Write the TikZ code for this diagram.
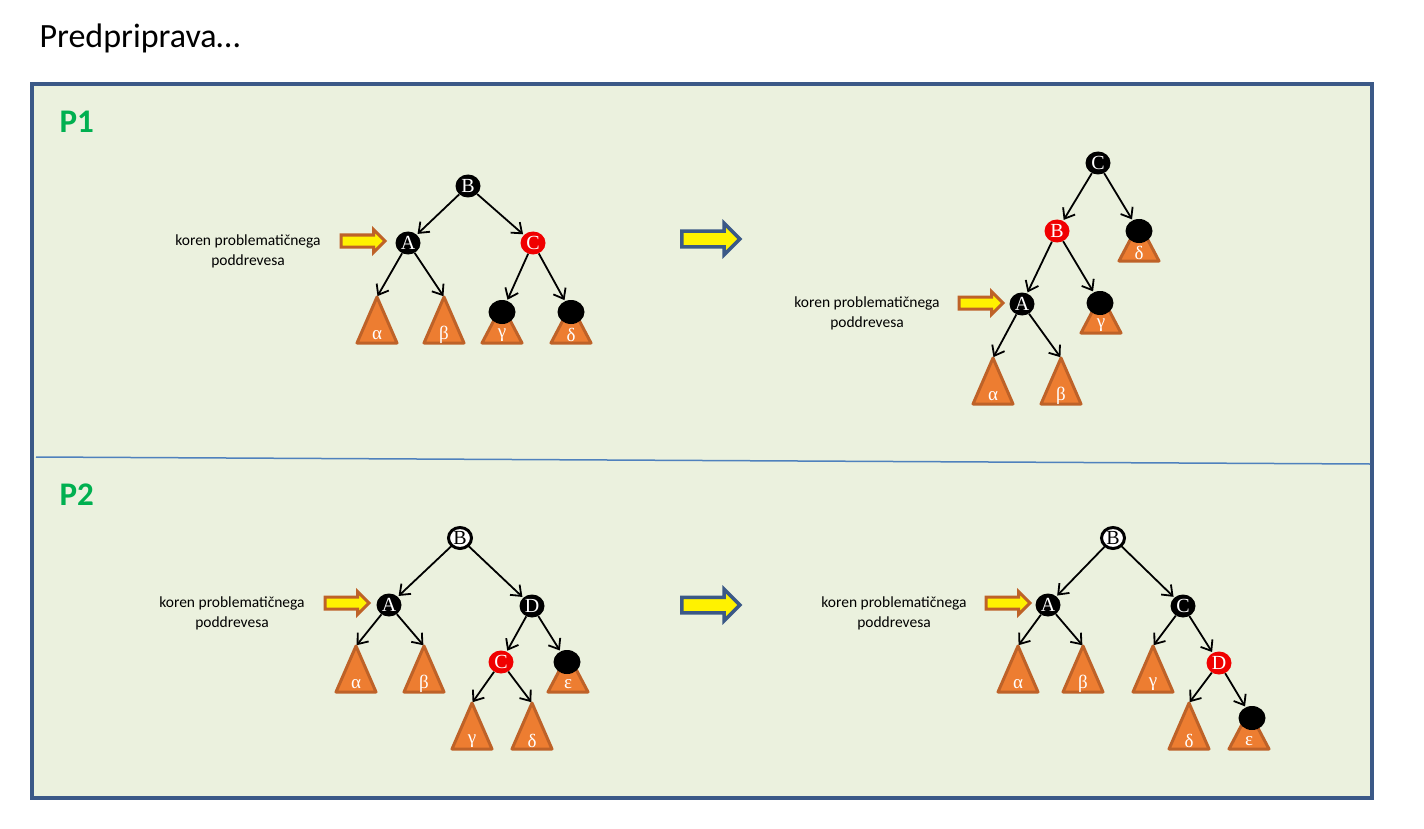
\documentclass[tikz,border=0pt]{standalone}
\usepackage{fontspec}
\setmainfont{Carlito}
\newfontfamily\treefont{Liberation Serif}
\usepackage{tikz}
\usetikzlibrary{arrows.meta}
\usetikzlibrary{shapes.geometric,shapes.arrows}

\definecolor{panelbg}{RGB}{235,241,222}
\definecolor{framecol}{RGB}{59,89,135}
\definecolor{splitcol}{RGB}{79,129,189}
\definecolor{pgreen}{RGB}{0,176,80}
\definecolor{rbred}{RGB}{240,0,0}
\definecolor{treefill}{RGB}{237,125,49}
\definecolor{treeedge}{RGB}{190,98,40}

% subtree triangle: [height], name, x, base y, letter
\newcommand{\subtri}[5][46]{%
	\draw[tri] (#3,#4) -- ++(-20,0) -- ++(20,-#1) -- ++(20,#1) -- cycle;
	\coordinate (#2) at (#3,#4-#1);
	\node[greek] at (#3,#4-8) {#5};
}

\begin{document}
\begin{tikzpicture}[x=1pt,y=-1pt,
		rb/.style={ellipse,inner sep=0pt,minimum width=25pt,minimum height=23pt,font=\treefont\fontsize{20}{20}\selectfont},
		blk/.style={rb,fill=black,text=white},
		rd/.style={rb,fill=rbred,text=white},
		wht/.style={rb,draw=black,line width=3pt,fill=white,text=black,minimum width=23pt,minimum height=21pt},
		leaf/.style={ellipse,fill=black,minimum width=27pt,minimum height=24pt,inner sep=0pt},
		tri/.style={fill=treefill,draw=treeedge,line width=3pt,line join=round},
		greek/.style={text=white,font=\treefont\fontsize{19}{19}\selectfont,inner sep=0pt},
		link/.style={-{Straight Barb[length=9pt,width=14pt]},line width=1.8pt,shorten >=1pt},
		note/.style={align=center,font=\fontsize{15.5}{20}\selectfont},
		ptr/.style={single arrow,draw=treeedge,fill=yellow,line width=3pt,minimum height=44pt,inner xsep=0pt,inner ysep=4.5pt,single arrow head extend=5.5pt},
		bigptr/.style={single arrow,draw=framecol,fill=yellow,line width=3.5pt,minimum height=58pt,inner xsep=0pt,inner ysep=6pt,single arrow head extend=8pt}]
	\useasboundingbox (0,0) rectangle (1424,829);
	
	\node[anchor=base west,font=\fontsize{34}{34}\selectfont] (title) at (36,48) {Predpriprava…};
	\draw[draw=framecol,line width=3.5pt,fill=panelbg] (32,84) rectangle (1372,798);
	\draw[splitcol,line width=1.5pt] (36,457) -- (1370,464);
	\node[anchor=base west,font=\bfseries\fontsize{33}{33}\selectfont,text=pgreen] (p1) at (56,133) {P1};
	\node[anchor=base west,font=\bfseries\fontsize{33}{33}\selectfont,text=pgreen] (p2) at (56,505) {P2};
	
	% P1, before
	\node[note] (n1) at (248,251) {koren problematičnega\\poddrevesa};
	\node[ptr] (r1) at (360,241) {};
	\node[blk] (b1) at (468,186) {B};
	\node[blk] (a1) at (408,243) {A};
	\node[rd] (c1) at (533,243) {C};
	\subtri{al1}{377}{343}{α}
	\subtri{be1}{444}{343}{β}
	\subtri[38]{ga1}{502}{343}{γ}
	\node[leaf] (lg1) at (502,312) {};
	\subtri[38]{de1}{571}{343}{δ}
	\node[leaf] (ld1) at (571,312) {};
	\draw[link] (b1) -- (a1);
	\draw[link] (b1) -- (c1);
	\draw[link] (a1) -- (al1);
	\draw[link] (a1) -- (be1);
	\draw[link] (c1) -- (lg1);
	\draw[link] (c1) -- (ld1);
	
	\node[bigptr] (m1) at (707,239) {};
	
	% P1, after
	\node[note] (n2) at (867,313) {koren problematičnega\\poddrevesa};
	\node[ptr] (r2) at (978,303) {};
	\node[blk] (c2) at (1098,163) {C};
	\node[rd] (b2) at (1057,231) {B};
	\subtri[38]{de2}{1139}{261}{δ}
	\node[leaf] (ld2) at (1139,231) {};
	\node[blk] (a2) at (1022,304) {A};
	\subtri[38]{ga2}{1101}{333}{γ}
	\node[leaf] (lg2) at (1100,303) {};
	\subtri{al2}{993}{404}{α}
	\subtri{be2}{1061}{404}{β}
	\draw[link] (c2) -- (b2);
	\draw[link] (c2) -- (ld2);
	\draw[link] (b2) -- (a2);
	\draw[link] (b2) -- (lg2);
	\draw[link] (a2) -- (al2);
	\draw[link] (a2) -- (be2);
	
	% P2, before
	\node[note] (n3) at (232,613) {koren problematičnega\\poddrevesa};
	\node[ptr] (r3) at (344,603) {};
	\node[wht] (b3) at (460,538) {B};
	\node[blk] (a3) at (389,605) {A};
	\node[blk] (d3) at (532,606) {D};
	\subtri{al3}{356}{692}{α}
	\subtri{be3}{424}{692}{β}
	\node[rd] (c3) at (501,662) {C};
	\subtri[38]{ep3}{568}{692}{ε}
	\node[leaf] (le3) at (567,662) {};
	\subtri{ga3}{472}{749}{γ}
	\subtri{de3}{532}{749}{δ}
	\draw[link] (b3) -- (a3);
	\draw[link] (b3) -- (d3);
	\draw[link] (a3) -- (al3);
	\draw[link] (a3) -- (be3);
	\draw[link] (d3) -- (c3);
	\draw[link] (d3) -- (le3);
	\draw[link] (c3) -- (ga3);
	\draw[link] (c3) -- (de3);
	
	\node[bigptr] (m2) at (707,605) {};
	
	% P2, after
	\node[note] (n4) at (894,613) {koren problematičnega\\poddrevesa};
	\node[ptr] (r4) at (1005,603) {};
	\node[wht] (b4) at (1113,538) {B};
	\node[blk] (a4) at (1048,605) {A};
	\node[blk] (c4) at (1183,606) {C};
	\subtri{al4}{1018}{692}{α}
	\subtri{be4}{1083}{692}{β}
	\subtri{ga4}{1153}{692}{γ}
	\node[rd] (d4) at (1219,663) {D};
	\subtri{de4}{1189}{749}{δ}
	\subtri[38]{ep4}{1249}{749}{ε}
	\node[leaf] (le4) at (1252,718) {};
	\draw[link] (b4) -- (a4);
	\draw[link] (b4) -- (c4);
	\draw[link] (a4) -- (al4);
	\draw[link] (a4) -- (be4);
	\draw[link] (c4) -- (ga4);
	\draw[link] (c4) -- (d4);
	\draw[link] (d4) -- (de4);
	\draw[link] (d4) -- (le4);
\end{tikzpicture}
\end{document}
